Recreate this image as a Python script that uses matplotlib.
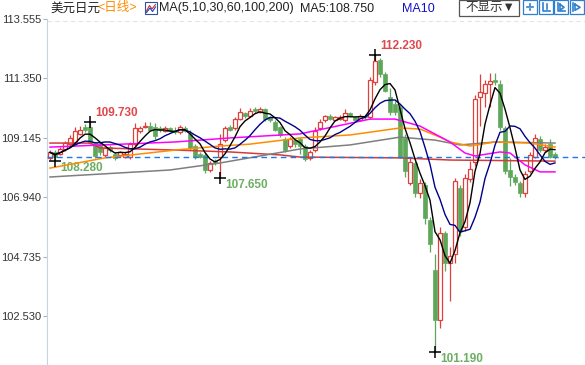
import matplotlib
matplotlib.use("Agg")
import matplotlib.pyplot as plt
from matplotlib.patches import Rectangle
from matplotlib.lines import Line2D
import numpy as np
import pandas as pd

plt.rcParams['font.family'] = ['Liberation Sans', 'Noto Sans CJK SC', 'DejaVu Sans']

# ---------------- data (USD/JPY daily candles) ----------------
opens = [108.40, 108.62, 108.55, 108.72, 108.90, 108.95, 109.30, 109.55, 109.55, 108.95,
         108.90, 108.50, 108.80, 108.55, 108.50, 108.45, 108.45, 108.90, 109.40, 109.55,
         109.60, 109.55, 109.50, 109.40, 109.50, 109.45, 109.35, 109.50, 109.30, 108.85,
         108.55, 108.50, 107.95, 108.30, 108.45, 109.05, 109.55, 109.50, 109.85, 110.05,
         109.95, 110.20, 110.10, 110.20, 109.90, 109.75, 109.55, 109.10, 108.85, 109.05,
         109.10, 108.85, 108.40, 108.70, 109.50, 109.80, 109.95, 109.80, 109.85, 109.80,
         110.05, 109.90, 109.80, 109.95, 109.90, 111.20, 112.05, 111.50, 110.65, 110.40,
         110.30, 109.15, 107.45, 108.20, 107.10, 107.40, 106.10, 104.25, 102.40, 105.60,
         104.50, 104.85, 107.30, 105.85, 107.60, 108.25, 110.65, 110.80, 111.15, 111.30,
         111.15, 109.50, 107.95, 107.70, 107.45, 107.10, 107.90, 108.45, 109.10, 108.70,
         108.90, 108.55]
closes = [108.60, 108.45, 108.72, 108.95, 109.15, 109.40, 109.45, 109.45, 108.95, 108.48,
          108.60, 108.75, 108.70, 108.38, 108.60, 108.55, 108.90, 109.50, 109.50, 109.60,
          109.45, 109.20, 109.42, 109.50, 109.40, 109.35, 109.55, 109.40, 108.75, 108.45,
          108.45, 107.95, 108.20, 108.20, 108.90, 109.50, 109.45, 109.85, 110.10, 109.95,
          110.15, 110.15, 110.20, 109.85, 109.80, 109.45, 109.25, 108.70, 109.10, 108.90,
          108.85, 108.35, 108.60, 109.40, 109.75, 109.95, 109.85, 109.90, 109.90, 110.05,
          109.95, 109.80, 109.95, 109.90, 111.30, 112.00, 111.50, 110.90, 110.10, 110.10,
          108.45, 107.90, 108.25, 107.10, 107.45, 106.15, 105.20, 102.40, 105.60, 104.50,
          104.75, 107.55, 105.70, 107.65, 108.00, 110.60, 110.85, 111.15, 111.25, 111.20,
          109.55, 107.90, 107.70, 107.50, 107.10, 107.80, 108.50, 109.15, 108.70, 108.80,
          108.45, 108.43]
highs = [108.68, 108.70, 108.80, 109.02, 109.25, 109.55, 109.58, 109.65, 109.73, 109.00,
         108.98, 108.82, 108.88, 108.62, 108.66, 108.62, 109.00, 109.69, 109.58, 109.75,
         109.75, 109.70, 109.58, 109.58, 109.56, 109.55, 109.62, 109.58, 109.45, 108.92,
         108.62, 108.58, 108.28, 108.36, 109.30, 109.60, 109.62, 109.92, 110.25, 110.12,
         110.25, 110.30, 110.28, 110.26, 109.96, 109.82, 109.60, 109.18, 109.18, 109.12,
         109.18, 108.92, 108.68, 109.55, 109.85, 110.00, 110.02, 109.96, 109.98, 110.20,
         110.12, 109.96, 110.02, 110.00, 111.40, 112.23, 112.10, 111.60, 111.00, 110.50,
         110.40, 109.30, 108.40, 108.30, 107.60, 107.50, 106.20, 104.85, 105.85, 105.70,
         105.10, 107.65, 107.40, 107.80, 108.30, 110.75, 111.50, 111.30, 111.55, 111.55,
         111.30, 109.60, 108.40, 107.80, 107.55, 107.90, 108.60, 109.30, 109.20, 108.90,
         109.10, 108.62]
lows = [108.33, 108.28, 108.50, 108.66, 108.85, 108.90, 109.25, 109.35, 108.90, 108.40,
        108.52, 108.45, 108.62, 108.32, 108.42, 108.40, 108.35, 108.85, 109.32, 109.50,
        109.40, 109.10, 109.35, 109.35, 109.35, 109.28, 109.30, 109.35, 108.70, 108.35,
        108.38, 107.85, 107.88, 108.12, 107.65, 108.98, 109.38, 109.45, 109.80, 109.88,
        109.90, 110.08, 110.05, 109.78, 109.72, 109.38, 109.18, 108.62, 108.78, 108.82,
        108.55, 108.30, 108.33, 108.62, 109.45, 109.75, 109.80, 109.76, 109.80, 109.75,
        109.90, 109.75, 109.76, 109.84, 109.85, 111.10, 111.40, 110.85, 110.00, 110.00,
        108.40, 107.70, 107.40, 106.95, 106.90, 105.95, 104.90, 101.19, 102.10, 104.20,
        103.10, 104.50, 105.50, 105.70, 107.50, 108.10, 109.60, 110.30, 110.30, 111.10,
        109.45, 107.80, 107.35, 107.40, 106.95, 106.95, 107.85, 108.40, 108.60, 108.62,
        108.40, 108.35]

# longer moving averages (candle index, value)
ma30_idx = [0, 25, 36, 50, 64, 69, 74, 80, 83, 85, 90, 92, 95, 98, 101]
ma30_val = [108.80, 108.99, 109.14, 109.29, 109.84, 109.84, 109.58, 108.99, 108.58,
            108.47, 108.62, 108.58, 108.14, 107.88, 107.88]
ma60_idx = [0, 11, 25, 34, 40, 50, 60, 70, 74, 78, 80, 84, 89, 96, 101]
ma60_val = [108.02, 108.40, 108.69, 108.84, 108.91, 109.14, 109.25, 109.51, 109.47,
            109.17, 108.99, 108.84, 108.99, 108.95, 108.80]
ma100_idx = [0, 24, 34, 50, 60, 70, 77, 82, 89, 101]
ma100_val = [107.69, 107.95, 108.21, 108.73, 108.88, 109.17, 109.06, 108.88, 108.99, 108.95]
ma200_idx = [0, 8, 10, 25, 36, 46, 50, 70, 80, 101]
ma200_val = [108.95, 108.95, 108.77, 108.69, 108.62, 108.51, 108.43, 108.40, 108.32, 108.28]

yticks = [102.530, 104.735, 106.940, 109.145, 111.350, 113.555]
marks = [(8, 109.73, 'high'), (1, 108.28, 'low'), (34, 107.65, 'low'),
         (65, 112.23, 'high'), (77, 101.19, 'low')]

# ---------------- figure ----------------
W, H = 585, 365
fig = plt.figure(figsize=(W / 100, H / 100), dpi=100)
ax = fig.add_axes([47 / W, 0, (W - 47) / W, (H - 19) / H])

RED = '#e0403c'
GREEN = '#5ea75a'

o = np.array(opens); c = np.array(closes); h = np.array(highs); l = np.array(lows)
idx = np.arange(len(c))
up = c >= o
cols = np.where(up, RED, GREEN)
top = np.maximum(o, c); bot = np.minimum(o, c)

ax.vlines(idx, top, h, colors=cols, lw=0.9, zorder=2)
ax.vlines(idx, l, bot, colors=cols, lw=0.9, zorder=2)
bw = 0.62
ax.bar(idx[up], np.maximum((c - o)[up], 0.02), bottom=o[up], width=bw,
       facecolor='white', edgecolor=RED, linewidth=0.9, zorder=3)
ax.bar(idx[~up], np.maximum((o - c)[~up], 0.02), bottom=c[~up], width=bw,
       facecolor=GREEN, edgecolor=GREEN, linewidth=0.5, zorder=3)

s = pd.Series(closes)
ma5 = s.rolling(5, min_periods=1).mean()
ma10 = s.rolling(10, min_periods=1).mean()

ax.plot(ma200_idx, ma200_val, color='#d63a3a', lw=1.1, zorder=4)
ax.plot(ma100_idx, ma100_val, color='#7f7f7f', lw=1.1, zorder=4)
ax.plot(ma60_idx, ma60_val, color='#ff8c00', lw=1.1, zorder=4)
ax.plot(ma30_idx, ma30_val, color='#ff00ff', lw=1.1, zorder=4)
ax.plot(idx, ma10, color='#00008b', lw=1.0, zorder=5)
ax.plot(idx, ma5, color='black', lw=1.0, zorder=6)

# last price line
ax.axhline(closes[-1], color='#1e78e6', lw=1.0, ls=(0, (4, 3)), zorder=4)
ax.axhline(113.48, color='#e4e4e4', lw=0.8, ls=(0, (4, 3)), zorder=1)

# extreme marks
for i, p, kind in marks:
    ax.plot([i], [p], marker='+', color='black', ms=8, mew=1.1, zorder=7)
    if kind == 'high':
        ax.annotate(f'{p:.3f}', (i, p), xytext=(5, 9), textcoords='offset pixels',
                    ha='left', va='center', fontsize=8.5, fontweight='bold', color='#e0484c')
    else:
        ax.annotate(f'{p:.3f}', (i, p), xytext=(5, -7), textcoords='offset pixels',
                    ha='left', va='center', fontsize=8.5, fontweight='bold', color='#6cae62')

ax.set_xlim(-0.6, 107.0)
ax.set_ylim(113.555 - (H - 19) / 26.94, 113.555)
ax.set_yticks(yticks)
ax.set_yticklabels([f'{v:.3f}' for v in yticks])
ax.set_xticks([])
for sp in ['top', 'right', 'bottom']:
    ax.spines[sp].set_visible(False)
ax.spines['left'].set_color('#c5d3e2')
ax.tick_params(axis='y', direction='out', length=3, width=0.8, color='#9fb4cc',
               labelsize=8.0, labelcolor='#333333', pad=1)

# ---------------- header ----------------
def fx(x):
    return x / W

def fy(y):
    return 1 - y / H

yc = 8.5
fig.text(fx(50), fy(yc), '美元日元', fontsize=9, color='#222222', ha='left', va='center')
fig.text(fx(97), fy(yc), '<日线>', fontsize=9, color='#ff8c00', ha='left', va='center')
fig.add_artist(Rectangle((fx(145), fy(14)), 12 / W, 12 / H, transform=fig.transFigure,
                         facecolor='white', edgecolor='#3050a0', lw=0.8))
fig.add_artist(Line2D([fx(146.5), fx(149.5), fx(152), fx(155.5)],
                      [fy(11), fy(5.5), fy(9), fy(4.5)], transform=fig.transFigure,
                      color='#d03030', lw=0.8))
fig.add_artist(Line2D([fx(146.5), fx(150), fx(152.5), fx(155.5)],
                      [fy(12.5), fy(8), fy(11.5), fy(7)], transform=fig.transFigure,
                      color='#2040c0', lw=0.8))
fig.text(fx(159), fy(yc), 'MA(5,10,30,60,100,200)', fontsize=9, color='#222222',
         ha='left', va='center')
fig.text(fx(300), fy(yc), 'MA5:108.750', fontsize=9, color='#222222', ha='left', va='center')
fig.text(fx(402), fy(yc), 'MA10', fontsize=9, color='#1010c8', ha='left', va='center')

fig.add_artist(Rectangle((fx(459), fy(15.5)), 60 / W, 15.5 / H, transform=fig.transFigure,
                         facecolor='white', edgecolor='#555555', lw=0.9))
fig.text(fx(465), fy(8), '不显示▼', fontsize=9, color='#333333', ha='left', va='center')

icon_x = [523, 539, 554, 570]
for k, x0 in enumerate(icon_x):
    fig.add_artist(Rectangle((fx(x0), fy(14)), 14 / W, 13.5 / H, transform=fig.transFigure,
                             facecolor='white', edgecolor='#2f7fd0', lw=0.9))
    cx, cy = x0 + 7, 7.3
    if k == 0:
        for dx, dy in [(-3, 0), (3, 0), (0, -3), (0, 3)]:
            fig.add_artist(Line2D([fx(cx + dx * 0.4), fx(cx + dx)], [fy(cy + dy * 0.4), fy(cy + dy)],
                                  transform=fig.transFigure, color='#2f7fd0', lw=1.2))
    elif k == 1:
        fig.add_artist(Line2D([fx(cx - 3), fx(cx - 3), fx(cx + 4)], [fy(cy - 4), fy(cy + 4), fy(cy + 4)],
                              transform=fig.transFigure, color='#2f7fd0', lw=1.2))
        fig.add_artist(Line2D([fx(cx + 1), fx(cx + 1)], [fy(cy - 3), fy(cy + 2)],
                              transform=fig.transFigure, color='#2f7fd0', lw=1.2))
    elif k == 2:
        fig.add_artist(Line2D([fx(cx - 3), fx(cx - 3), fx(cx + 4)], [fy(cy - 4), fy(cy + 4), fy(cy + 4)],
                              transform=fig.transFigure, color='#2f7fd0', lw=1.2))
        fig.add_artist(Line2D([fx(cx - 1), fx(cx + 3), fx(cx - 1), fx(cx - 1)],
                              [fy(cy - 3), fy(cy), fy(cy + 3), fy(cy - 3)],
                              transform=fig.transFigure, color='#2f7fd0', lw=1.2))
    else:
        fig.add_artist(Line2D([fx(cx - 4), fx(cx - 4)], [fy(cy - 4), fy(cy + 4)],
                              transform=fig.transFigure, color='#2f7fd0', lw=1.2))
        fig.add_artist(Line2D([fx(cx - 2), fx(cx + 3), fx(cx - 2), fx(cx - 2)],
                              [fy(cy - 3), fy(cy), fy(cy + 3), fy(cy - 3)],
                              transform=fig.transFigure, color='#2f7fd0', lw=1.2))

fig.savefig('out.png', dpi=100)
